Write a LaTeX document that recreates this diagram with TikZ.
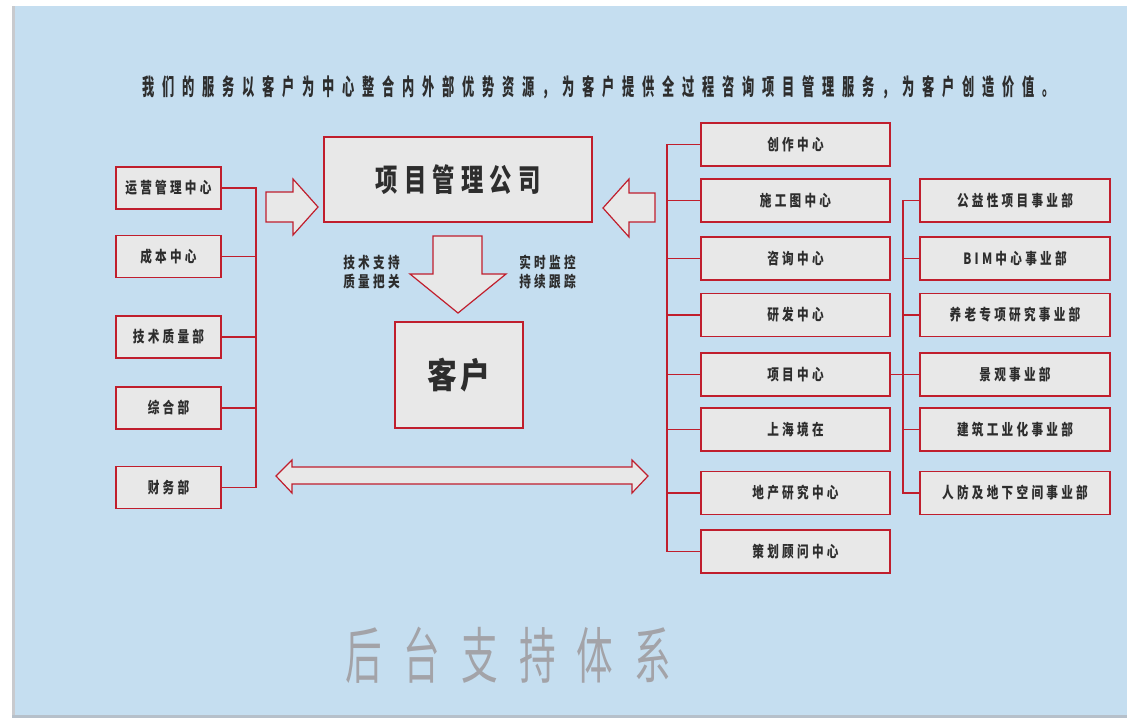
\documentclass[tikz,border=0pt]{standalone}
\usepackage{fontspec}
\newfontfamily\titlefam[FakeStretch=0.53,LetterSpace=34]{Noto Sans CJK SC}
\newfontfamily\boxfam[FakeStretch=0.75,LetterSpace=21]{Noto Sans CJK SC}
\newfontfamily\mainfam[FakeStretch=0.72,LetterSpace=20]{Noto Sans CJK SC}
\newfontfamily\kefam[FakeStretch=0.85,LetterSpace=8]{Noto Sans CJK SC}
\newfontfamily\bigfam[FakeStretch=0.6,LetterSpace=35]{Noto Sans CJK SC}
\newcommand\titlefont{\titlefam\bfseries\fontsize{23pt}{25pt}\selectfont}
\newcommand\boxfont{\boxfam\bfseries\fontsize{15.5pt}{19pt}\selectfont}
\newcommand\mainfont{\mainfam\bfseries\fontsize{31pt}{33pt}\selectfont}
\newcommand\kefont{\kefam\bfseries\fontsize{35pt}{38pt}\selectfont}
\newcommand\bigfont{\bigfam\fontsize{61pt}{64pt}\selectfont}
\definecolor{bgblue}{RGB}{197,222,240}
\definecolor{bred}{RGB}{192,30,45}
\definecolor{boxgray}{RGB}{232,232,232}
\definecolor{txt}{RGB}{45,45,45}
\definecolor{bigtxt}{RGB}{163,163,168}
\definecolor{edgegray}{RGB}{200,202,206}
\definecolor{edgegray2}{RGB}{182,192,202}
\begin{document}
\begin{tikzpicture}[x=1pt,y=-1pt,
  bx/.style={draw=bred, fill=boxgray, line width=1.4pt, inner sep=0pt, text=txt},
  lbox/.style={bx, minimum width=105pt, minimum height=42pt, font=\boxfont},
  mbox/.style={bx, minimum width=189pt, minimum height=43pt, font=\boxfont},
  rbox/.style={bx, minimum width=190pt, minimum height=43pt, font=\boxfont},
  conn/.style={draw=bred, line width=1.5pt},
  barrow/.style={draw=bred, fill=boxgray, line width=1.2pt, line join=miter},
  lbl/.style={inner sep=0pt, text=txt}]
\useasboundingbox (0,0) rectangle (1127,721);
\fill[white] (0,0) rectangle (1127,721);
\fill[bgblue] (14,6) rectangle (1127,715);
\fill[edgegray] (12,6) rectangle (15,716);
\fill[edgegray2] (12,715) rectangle (1127,718);

% title
\node[lbl, anchor=west, font=\titlefont] (title) at (142,87) {我们的服务以客户为中心整合内外部优势资源，为客户提供全过程咨询项目管理服务，为客户创造价值。};

% left column
\node[lbox] (L1) at (168.5,188) {运营管理中心};
\node[lbox] (L2) at (168.5,256.5) {成本中心};
\node[lbox] (L3) at (168.5,337) {技术质量部};
\node[lbox] (L4) at (168.5,408) {综合部};
\node[lbox] (L5) at (168.5,487.5) {财务部};
\coordinate (lx) at (256,0);
\draw[conn] (L1.east) -| (L5.east -| lx) -- (L5.east);
\foreach \n in {L2,L3,L4} \draw[conn] (\n.east) -- (\n.east -| lx);

% center
\node[bx, minimum width=268pt, minimum height=85pt, font=\mainfont] (pm) at (458,179.5) {项目管理公司};
\node[bx, minimum width=128pt, minimum height=106pt, font=\kefont] (kh) at (459,375) {客户};
\node[lbl, align=center, font=\boxfont] (t1) at (371.5,272.5) {技术支持\\质量把关};
\node[lbl, align=center, font=\boxfont] (t2) at (547.5,272.5) {实时监控\\持续跟踪};

% block arrows
\filldraw[barrow] (266,192) -- (293,192) -- (293,179) -- (318,207) -- (293,235) -- (293,222) -- (266,222) -- cycle;
\filldraw[barrow] (655,193) -- (629,193) -- (629,179) -- (603,208) -- (629,237) -- (629,222) -- (655,222) -- cycle;
\filldraw[barrow] (433,236) -- (482,236) -- (482,274) -- (506,274) -- (458,313) -- (410,274) -- (433,274) -- cycle;
\filldraw[barrow] (276,476) -- (292,460) -- (292,467) -- (632,467) -- (632,460) -- (648,476) -- (632,493) -- (632,484) -- (292,484) -- (292,493) -- cycle;

% middle column
\node[mbox] (M1) at (795.5,144.5) {创作中心};
\node[mbox] (M2) at (795.5,200.5) {施工图中心};
\node[mbox] (M3) at (795.5,258.5) {咨询中心};
\node[mbox] (M4) at (795.5,315) {研发中心};
\node[mbox] (M5) at (795.5,374.5) {项目中心};
\node[mbox] (M6) at (795.5,429.5) {上海境在};
\node[mbox] (M7) at (795.5,493) {地产研究中心};
\node[mbox] (M8) at (795.5,551.5) {策划顾问中心};
\coordinate (mx) at (667,0);
\draw[conn] (M1.west) -| (M8.west -| mx) -- (M8.west);
\foreach \n in {M2,M3,M4,M5,M6,M7} \draw[conn] (\n.west) -- (\n.west -| mx);

% right column
\node[rbox] (R1) at (1015,200.5) {公益性项目事业部};
\node[rbox] (R2) at (1015,258.5) {BIM中心事业部};
\node[rbox] (R3) at (1015,315) {养老专项研究事业部};
\node[rbox] (R4) at (1015,374.5) {景观事业部};
\node[rbox] (R5) at (1015,429.5) {建筑工业化事业部};
\node[rbox] (R6) at (1015,493) {人防及地下空间事业部};
\coordinate (rx) at (903,0);
\draw[conn] (R1.west) -| (R6.west -| rx) -- (R6.west);
\foreach \n in {R2,R3,R5} \draw[conn] (\n.west) -- (\n.west -| rx);
\draw[conn] (M5.east) -- (R4.west);

% bottom caption
\node[lbl, anchor=west, font=\bigfont, text=bigtxt] (bt) at (345,655) {后台支持体系};
\end{tikzpicture}
\end{document}
